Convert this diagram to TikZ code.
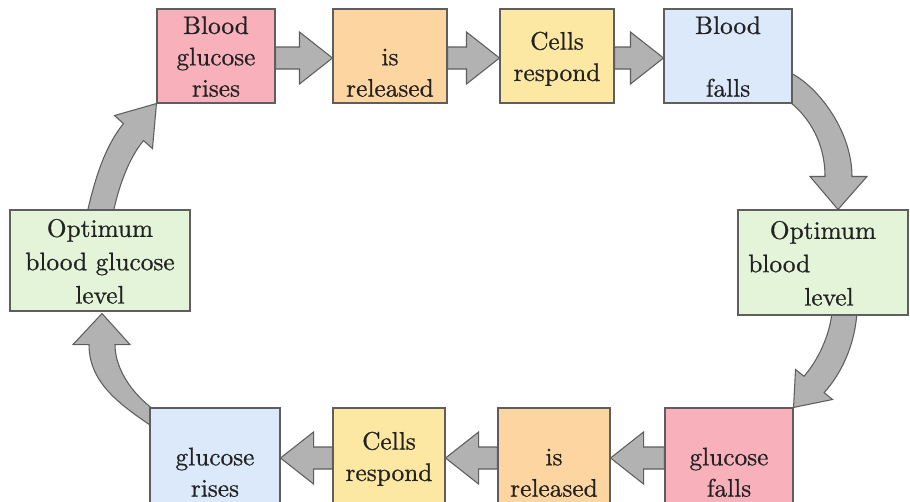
\documentclass[tikz,border=0pt]{standalone}
\usepackage{fontspec}
\newfontfamily\boxfont{lmroman10-regular.otf}[FakeBold=0.7]
\usetikzlibrary{calc,backgrounds}
\definecolor{pinkfill}{HTML}{F8B1BB}
\definecolor{orangefill}{HTML}{FDD5A0}
\definecolor{yellowfill}{HTML}{FCE8A3}
\definecolor{bluefill}{HTML}{DCE9FB}
\definecolor{greenfill}{HTML}{E4F4D8}
\definecolor{boxline}{HTML}{5E5E5E}
\definecolor{txt}{HTML}{222222}
\definecolor{arrfill}{HTML}{B2B2B2}
\definecolor{arrline}{HTML}{5E5E5E}
\newcommand{\tstrut}{\rule{0pt}{\dimexpr\ht\strutbox+2.25pt\relax}}
\newcommand{\bstrut}{\rule[\dimexpr-\dp\strutbox+2.25pt\relax]{0pt}{\dimexpr\dp\strutbox-2.25pt\relax}}
\tikzset{
  box/.style={draw=boxline, line width=0.8pt, align=center, inner sep=0pt,
    text=txt, font=\boxfont\fontsize{19}{23.5}\selectfont},
  widebox/.style={box, font=\boxfont\fontsize{19}{25}\selectfont},
  blockarrow/.style={fill=arrfill, draw=arrline, line width=0.8pt},
}
% right-pointing block arrow from #1 to #2
\newcommand{\rarr}[2]{%
  \path[blockarrow] let \p1=(#1.east), \p2=(#2.west) in
  ({\x1},{\y1+6.75pt}) -- ({\x2-24.75pt},{\y1+6.75pt}) -- ({\x2-24.75pt},{\y1+18pt})
  -- ({\x2},{\y1-1.5pt}) -- ({\x2-24.75pt},{\y1-21pt}) -- ({\x2-24.75pt},{\y1-9.75pt})
  -- ({\x1},{\y1-9.75pt}) -- cycle;}
% left-pointing block arrow from #1 (right) to #2 (left)
\newcommand{\larr}[2]{%
  \path[blockarrow] let \p1=(#1.west), \p2=(#2.east) in
  ({\x1},{\y1+6.75pt}) -- ({\x2+24.75pt},{\y1+6.75pt}) -- ({\x2+24.75pt},{\y1+18pt})
  -- ({\x2},{\y1-1.5pt}) -- ({\x2+24.75pt},{\y1-21pt}) -- ({\x2+24.75pt},{\y1-9.75pt})
  -- ({\x1},{\y1-9.75pt}) -- cycle;}
\begin{document}
\begin{tikzpicture}[x=0.75pt,y=-0.75pt]
\useasboundingbox (0,0) rectangle (910,501);
\clip (0,0) rectangle (910,501);
% top row
\node[box, fill=pinkfill, minimum width=88.5pt, minimum height=70.5pt] (tp) at (216,56) {\tstrut Blood\\glucose\\rises\bstrut};
\node[box, fill=orangefill, minimum width=85.5pt, minimum height=70.5pt] (to) at (390,56) {\tstrut\\is\\released\bstrut};
\node[box, fill=yellowfill, minimum width=85.5pt, minimum height=70.5pt] (ty) at (557,56) {\tstrut Cells\\respond\bstrut};
\node[box, fill=bluefill, minimum width=96pt, minimum height=70.5pt] (tb) at (728,56) {\tstrut Blood\\\strut\\falls\bstrut};
% sides
\node[widebox, fill=greenfill, minimum width=135pt, minimum height=75.75pt] (lg) at (100,260.5) {\tstrut Optimum\\blood glucose\\level\bstrut};
\node[widebox, fill=greenfill, minimum width=127.5pt, minimum height=78.75pt] (rg) at (823,262.5) {\tstrut Optimum\\blood\hphantom{ glucose}\\\hspace*{9pt}level\bstrut};
% bottom row
\node[box, fill=bluefill, minimum width=97.5pt, minimum height=72pt] (bb) at (215,456) {\tstrut\\glucose\\rises\bstrut};
\node[box, fill=yellowfill, minimum width=84pt, minimum height=72pt] (by) at (389,456) {\tstrut Cells\\respond\bstrut};
\node[box, fill=orangefill, minimum width=84pt, minimum height=72pt] (bo) at (554,456) {\tstrut\\is\\released\bstrut};
\node[box, fill=pinkfill, minimum width=96pt, minimum height=72pt] (bp) at (729,456) {\tstrut\\glucose\\falls\bstrut};
\begin{scope}[on background layer]
  \fill[white] (0,0) rectangle (910,501);
  % straight arrows
  \rarr{tp}{to}
  \rarr{to}{ty}
  \rarr{ty}{tb}
  \larr{bp}{bo}
  \larr{bo}{by}
  \larr{by}{bb}
  % top-left curved arrow: lg -> tp
  \path[blockarrow]
    ($(lg.north)+(-13,4)$) .. controls ($(lg.north)+(-5.5,-29)$) and ($(tp.south west)+(-52,43.4)$) .. ($(tp.south west)+(-33,20)$)
    -- ($(tp.south west)+(-42,12)$) -- (tp.south west) -- ($(tp.south west)+(-4,45)$)
    -- ($(tp.south west)+(-13,37)$) .. controls ($(tp.south west)+(-28,55.5)$) and ($(lg.north)+(19,-24)$) .. ($(lg.north)+(13,4)$)
    -- cycle;
  % top-right curved arrow: tb -> rg
  \path[blockarrow]
    ($(tb.south east)+(-7,-33)$) .. controls ($(tb.south east)+(23,-21)$) and ($(rg.north)+(29,-80)$) .. ($(rg.north)+(29,-33)$)
    -- ($(rg.north)+(44,-33)$) -- ($(rg.north)+(15,0)$) -- ($(rg.north)+(-13,-33)$)
    -- ($(rg.north)+(2,-33)$) .. controls ($(rg.north)+(2,-70)$) and ($(tb.south east)+(13,7)$) .. ($(tb.south east)+(-12,-8)$)
    -- cycle;
  % bottom-right curved arrow: rg -> bp
  \path[blockarrow]
    ($(rg.south)+(34,-4)$) .. controls ($(rg.south)+(32,30)$) and ($(bp.north east)+(47.4,-33.5)$) .. ($(bp.north east)+(30.6,-14.8)$)
    -- ($(bp.north east)+(39,-8)$) -- (bp.north east) -- ($(bp.north east)+(2,-38)$)
    -- ($(bp.north east)+(10.4,-31.2)$) .. controls ($(bp.north east)+(23.8,-46.2)$) and ($(rg.south)+(7,20)$) .. ($(rg.south)+(9,-4)$)
    -- cycle;
  % bottom-left curved arrow: bb -> lg
  \path[blockarrow]
    ($(bb.north west)+(10,24)$) .. controls ($(bb.north west)+(-25,0)$) and ($(lg.south)+(-11,74)$) .. ($(lg.south)+(-11,33)$)
    -- ($(lg.south)+(-27,33)$) -- ($(lg.south)+(2,2)$) -- ($(lg.south)+(30,33)$)
    -- ($(lg.south)+(15,33)$) .. controls ($(lg.south)+(15,59)$) and ($(bb.north west)+(-15,-10)$) .. ($(bb.north west)+(10,6)$)
    -- cycle;
\end{scope}
\end{tikzpicture}
\end{document}
